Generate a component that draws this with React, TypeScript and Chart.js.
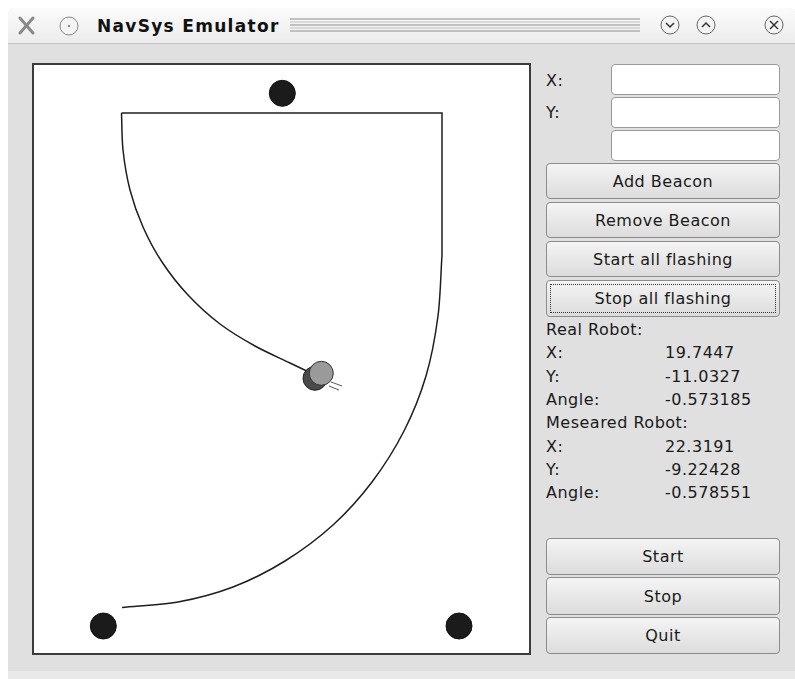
import React, { useEffect, useRef } from "react";
import { Chart, registerables } from "chart.js";

Chart.register(...registerables);

// Plot units: x 0..495 (left→right), y 0..588 (bottom→top)
const X_MAX = 495;
const Y_MAX = 588;

// Beacons
const beaconX = [248.3, 69.3, 425];
const beaconY = [559.7, 27, 27];

// Travelled path: outer arc (from bottom-left start up to right side)
const outerX = [88, 144, 199, 251, 299, 338, 370, 392, 404, 408];
const outerY = [45.5, 51, 66, 92, 128, 171, 222, 277, 337, 398];

// Straight segments: right side up, then across the top
const straightX = [408, 408, 87.5];
const straightY = [398, 540, 540];

// Inner arc down to the robot
const innerX = [87.5, 89, 96, 109, 128, 154, 186, 221, 256, 279];
const innerY = [540, 503, 463, 426, 391, 358, 329, 307, 290, 279];

// Robots
const realRobotX = [281];
const realRobotY = [274.7];
const measuredRobotX = [287.3];
const measuredRobotY = [279.7];

// Robot heading marks
const antennaAX = [297, 308];
const antennaAY = [271, 267];
const antennaBX = [295, 305];
const antennaBY = [267, 263];

// Panel text
const realLabels = ["X:", "Y:", "Angle:"];
const realValues = ["19.7447", "-11.0327", "-0.573185"];
const measLabels = ["X:", "Y:", "Angle:"];
const measValues = ["22.3191", "-9.22428", "-0.578551"];

const pts = (xs: number[], ys: number[]) => xs.map((x, i) => ({ x, y: ys[i] }));

const FONT = '"DejaVu Sans", sans-serif';

function Btn({ top, height, label, focus }: { top: number; height: number; label: string; focus?: boolean }) {
  return (
    <div
      style={{
        position: "absolute",
        left: 546,
        top,
        width: 234,
        height,
        boxSizing: "border-box",
        border: "1px solid #8c8c8c",
        borderRadius: 4,
        background: "linear-gradient(#f4f4f4, #dcdcdc)",
        display: "flex",
        alignItems: "center",
        justifyContent: "center",
        fontFamily: FONT,
        fontSize: 16,
        letterSpacing: 0.5,
        color: "#1a1a1a",
      }}
    >
      {focus && (
        <div
          style={{
            position: "absolute",
            left: 3,
            top: 3,
            right: 3,
            bottom: 3,
            border: "1px dotted #333",
          }}
        />
      )}
      {label}
    </div>
  );
}

function Input({ top }: { top: number }) {
  return (
    <div
      style={{
        position: "absolute",
        left: 611,
        top,
        width: 169,
        height: 31,
        boxSizing: "border-box",
        border: "1px solid #9a9a9a",
        borderRadius: 4,
        background: "#ffffff",
      }}
    />
  );
}

function Txt({ left, cy, children }: { left: number; cy: number; children: React.ReactNode }) {
  return (
    <div
      style={{
        position: "absolute",
        left,
        top: cy - 10,
        height: 20,
        lineHeight: "20px",
        fontFamily: FONT,
        fontSize: 16,
        letterSpacing: 0.5,
        color: "#1a1a1a",
        whiteSpace: "nowrap",
      }}
    >
      {children}
    </div>
  );
}

export default function App() {
  const ref = useRef<HTMLCanvasElement | null>(null);

  useEffect(() => {
    if (!ref.current) return;
    const lineDs = (data: { x: number; y: number }[], tension: number, order: number, width = 1.5, color = "#1e1e1e") => ({
      type: "line" as const,
      data,
      showLine: true,
      borderColor: color,
      borderWidth: width,
      pointRadius: 0,
      tension,
      fill: false,
      order,
    });
    const chart = new Chart(ref.current, {
      type: "scatter",
      data: {
        datasets: [
          {
            data: pts(beaconX, beaconY),
            backgroundColor: "#1b1b1b",
            borderColor: "#111111",
            borderWidth: 1,
            pointRadius: 13,
            order: 1,
          } as any,
          {
            data: pts(measuredRobotX, measuredRobotY),
            backgroundColor: "#9a9a9a",
            borderColor: "#333333",
            borderWidth: 1,
            pointRadius: 12,
            order: 2,
          },
          {
            data: pts(realRobotX, realRobotY),
            backgroundColor: "#4a4a4a",
            borderColor: "#222222",
            borderWidth: 1,
            pointRadius: 12,
            order: 3,
          },
          lineDs(pts(antennaAX, antennaAY), 0, 4, 1, "#555555"),
          lineDs(pts(antennaBX, antennaBY), 0, 4, 1, "#555555"),
          lineDs(pts(outerX, outerY), 0.3, 5),
          lineDs(pts(straightX, straightY), 0, 5),
          lineDs(pts(innerX, innerY), 0.3, 5),
        ] as any,
      },
      options: {
        animation: false,
        responsive: false,
        maintainAspectRatio: false,
        devicePixelRatio: 1,
        layout: { padding: 0, autoPadding: false },
        plugins: { legend: { display: false }, tooltip: { enabled: false } },
        events: [],
        scales: {
          x: { type: "linear", min: 0, max: X_MAX, display: false },
          y: { type: "linear", min: 0, max: Y_MAX, display: false },
        },
      },
    });
    return () => chart.destroy();
  }, []);

  return (
    <div
      style={{
        position: "fixed",
        left: 0,
        top: 0,
        width: 795,
        height: 679,
        background: "#ffffff",
        overflow: "hidden",
      }}
    >
      {/* window frame */}
      <div
        style={{
          position: "absolute",
          left: 8,
          top: 8,
          width: 787,
          height: 671,
          background: "#e0e0e0",
          borderTopLeftRadius: 6,
          borderTopRightRadius: 6,
        }}
      />
      <div
        style={{
          position: "absolute",
          left: 8,
          top: 671,
          width: 787,
          height: 8,
          background: "#e9e9e9",
        }}
      />
      {/* title bar */}
      <div
        style={{
          position: "absolute",
          left: 8,
          top: 8,
          width: 787,
          height: 35,
          background: "linear-gradient(#fbfbfb, #ececec)",
          borderTopLeftRadius: 6,
          borderTopRightRadius: 6,
          borderBottom: "1px solid #c6c6c6",
        }}
      />
      <svg style={{ position: "absolute", left: 0, top: 0 }} width={795} height={50}>
        <g stroke="#8a8a8a" strokeWidth={3} strokeLinecap="round">
          <line x1={20} y1={18} x2={33} y2={33} />
          <line x1={33} y1={18} x2={20} y2={33} />
        </g>
        <circle cx={69} cy={26} r={9} fill="#f4f4f4" stroke="#8a8a8a" strokeWidth={1} />
        <circle cx={69} cy={26} r={1} fill="#666" />
        {[19, 22, 25, 28, 31].map((y, i) => (
          <line key={i} x1={290} y1={y} x2={640} y2={y} stroke={i % 2 ? "#bdbdbd" : "#8d8d8d"} strokeWidth={1} />
        ))}
        <circle cx={670} cy={25} r={9} fill="#f4f4f4" stroke="#666" strokeWidth={1} />
        <polyline points="666,23 670,27 674,23" fill="none" stroke="#333" strokeWidth={1.5} />
        <circle cx={706} cy={25} r={9} fill="#f4f4f4" stroke="#666" strokeWidth={1} />
        <polyline points="702,27 706,23 710,27" fill="none" stroke="#333" strokeWidth={1.5} />
        <circle cx={774} cy={25} r={9} fill="#f4f4f4" stroke="#666" strokeWidth={1} />
        <line x1={770} y1={21} x2={778} y2={29} stroke="#333" strokeWidth={1.5} />
        <line x1={778} y1={21} x2={770} y2={29} stroke="#333" strokeWidth={1.5} />
      </svg>
      <div
        style={{
          position: "absolute",
          left: 97,
          top: 14,
          height: 24,
          lineHeight: "24px",
          fontFamily: FONT,
          fontWeight: "bold",
          fontSize: 17,
          letterSpacing: 1.3,
          color: "#111",
          whiteSpace: "nowrap",
        }}
      >
        NavSys Emulator
      </div>

      {/* plot frame */}
      <div
        style={{
          position: "absolute",
          left: 32,
          top: 63,
          width: 499,
          height: 592,
          boxSizing: "border-box",
          border: "2px solid #3c3c3c",
          background: "#ffffff",
        }}
      >
        <canvas ref={ref} width={X_MAX} height={Y_MAX} style={{ display: "block", width: X_MAX, height: Y_MAX }} />
      </div>

      {/* right panel */}
      <Txt left={546} cy={81}>X:</Txt>
      <Input top={64} />
      <Txt left={546} cy={113}>Y:</Txt>
      <Input top={97} />
      <Input top={130} />

      <Btn top={163} height={36} label="Add Beacon" />
      <Btn top={202} height={36} label="Remove Beacon" />
      <Btn top={241} height={36} label="Start all flashing" />
      <Btn top={280} height={37} label="Stop all flashing" focus />

      <Txt left={546} cy={330}>Real Robot:</Txt>
      {realLabels.map((l, i) => (
        <React.Fragment key={"r" + i}>
          <Txt left={546} cy={353 + i * 23.5}>{l}</Txt>
          <Txt left={665} cy={353 + i * 23.5}>{realValues[i]}</Txt>
        </React.Fragment>
      ))}
      <Txt left={546} cy={423}>Meseared Robot:</Txt>
      {measLabels.map((l, i) => (
        <React.Fragment key={"m" + i}>
          <Txt left={546} cy={447 + i * 23}>{l}</Txt>
          <Txt left={665} cy={447 + i * 23}>{measValues[i]}</Txt>
        </React.Fragment>
      ))}

      <Btn top={538} height={37} label="Start" />
      <Btn top={577} height={38} label="Stop" />
      <Btn top={617} height={37} label="Quit" />
    </div>
  );
}
